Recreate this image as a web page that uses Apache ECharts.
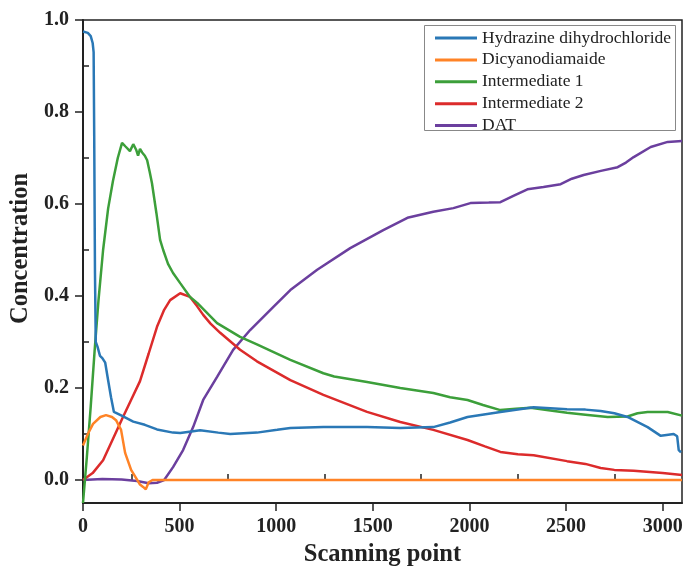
<!DOCTYPE html>
<html>
<head>
<meta charset="utf-8">
<script src="https://cdn.jsdelivr.net/npm/echarts@6/dist/echarts.min.js"></script>
<style>
  html, body { margin: 0; padding: 0; background: #fff; }
  #chart { width: 684px; height: 567px; }
</style>
</head>
<body>
<div id="chart"></div>
<script>
// values
const seriesNames = ['Hydrazine dihydrochloride', 'Dicyanodiamaide', 'Intermediate 1', 'Intermediate 2', 'DAT'];
const colors = ['#2a78b6', '#ff8326', '#3c9f3a', '#dc2b2b', '#6b3f9e'];

const hydX = [0, 10, 25, 40, 50, 55, 58, 62, 66, 75, 88, 100, 115, 130, 145, 160, 200, 260, 320, 383, 466, 503, 570, 606, 700, 762, 900, 1005, 1073, 1244, 1470, 1642, 1813, 1900, 1990, 2160, 2332, 2505, 2600, 2679, 2750, 2818, 2922, 2990, 3020, 3057, 3075, 3083, 3095];
const hydY = [0.975, 0.978, 0.972, 0.965, 0.95, 0.93, 0.75, 0.45, 0.30, 0.29, 0.27, 0.265, 0.255, 0.217, 0.18, 0.148, 0.14, 0.127, 0.12, 0.11, 0.103, 0.102, 0.106, 0.108, 0.103, 0.10, 0.103, 0.109, 0.113, 0.115, 0.115, 0.113, 0.115, 0.125, 0.137, 0.148, 0.158, 0.154, 0.153, 0.150, 0.145, 0.137, 0.115, 0.096, 0.098, 0.10, 0.095, 0.065, 0.06];

const dicX = [0, 25, 52, 90, 119, 150, 171, 197, 218, 249, 275, 295, 311, 325, 340, 360, 3100];
const dicY = [0.075, 0.1, 0.122, 0.137, 0.141, 0.137, 0.13, 0.109, 0.059, 0.022, 0.004, -0.01, -0.015, -0.02, -0.005, 0, 0];

const int1X = [0, 20, 40, 60, 80, 104, 130, 155, 180, 202, 220, 243, 260, 275, 285, 295, 306, 320, 332, 345, 357, 380, 399, 415, 440, 466, 503, 554, 591, 694, 813, 900, 1073, 1244, 1300, 1470, 1642, 1813, 1900, 1990, 2070, 2160, 2240, 2316, 2400, 2505, 2600, 2715, 2818, 2870, 2922, 3026, 3100];
const int1Y = [-0.05, 0.05, 0.16, 0.28, 0.39, 0.5, 0.59, 0.65, 0.70, 0.733, 0.725, 0.715, 0.73, 0.718, 0.705, 0.72, 0.712, 0.705, 0.695, 0.67, 0.645, 0.58, 0.522, 0.5, 0.47, 0.45, 0.428, 0.398, 0.385, 0.341, 0.311, 0.295, 0.261, 0.232, 0.225, 0.213, 0.2, 0.189, 0.18, 0.174, 0.163, 0.152, 0.155, 0.157, 0.152, 0.146, 0.142, 0.137, 0.138, 0.145, 0.148, 0.148, 0.14];

const int2X = [0, 50, 104, 150, 207, 250, 295, 340, 383, 420, 451, 503, 554, 590, 622, 660, 710, 813, 900, 1073, 1244, 1470, 1642, 1813, 1990, 2080, 2160, 2250, 2332, 2505, 2600, 2679, 2750, 2850, 3000, 3100];
const int2Y = [0, 0.015, 0.043, 0.085, 0.137, 0.175, 0.215, 0.275, 0.333, 0.37, 0.391, 0.406, 0.398, 0.378, 0.359, 0.34, 0.32, 0.283, 0.258, 0.217, 0.185, 0.148, 0.126, 0.109, 0.087, 0.073, 0.061, 0.056, 0.054, 0.041, 0.035, 0.026, 0.022, 0.02, 0.015, 0.011];

const datX = [0, 100, 200, 280, 340, 383, 420, 466, 518, 570, 622, 694, 777, 865, 984, 1073, 1212, 1383, 1554, 1679, 1813, 1917, 2005, 2100, 2160, 2230, 2300, 2383, 2472, 2530, 2591, 2680, 2767, 2810, 2850, 2938, 3026, 3100];
const datY = [0, 0.002, 0.001, -0.002, -0.007, -0.006, 0, 0.028, 0.065, 0.115, 0.174, 0.224, 0.283, 0.326, 0.376, 0.413, 0.457, 0.504, 0.543, 0.57, 0.583, 0.591, 0.602, 0.603, 0.604, 0.618, 0.632, 0.637, 0.643, 0.655, 0.663, 0.672, 0.68, 0.69, 0.702, 0.724, 0.735, 0.737];

const xMajor = [0, 500, 1000, 1500, 2000, 2500, 3000];
const xMinor = [250, 750, 1250, 1750, 2250, 2750];
const yMajor = [0, 0.2, 0.4, 0.6, 0.8, 1.0];
const yMinor = [0.1, 0.3, 0.5, 0.7, 0.9];

const allX = [hydX, dicX, int1X, int2X, datX];
const allY = [hydY, dicY, int1Y, int2Y, datY];

function zip(xs, ys) {
  return xs.map((x, i) => [x, ys[i]]);
}

const font = 'Liberation Serif, Times New Roman, serif';
const ink = '#222';

const chart = echarts.init(document.getElementById('chart'));

const series = seriesNames.map((name, i) => ({
  name: name,
  type: 'line',
  xAxisIndex: 0,
  yAxisIndex: 0,
  data: zip(allX[i], allY[i]),
  symbol: 'none',
  smooth: false,
  color: colors[i],
  lineStyle: { width: 2.5, color: colors[i] },
  z: 10 - i
}));

chart.setOption({
  animation: false,
  backgroundColor: '#fff',
  grid: {
    left: 83, right: 2, top: 20, bottom: 64,
    containLabel: false,
    outerBoundsMode: 'none',
    show: true,
    borderColor: ink,
    borderWidth: 1.5
  },
  // legend frame, drawn separately so it can hug the text like the original
  graphic: [{
    type: 'rect',
    z: 15,
    shape: { x: 424.5, y: 25.5, width: 251, height: 105 },
    style: { fill: '#fff', stroke: '#888', lineWidth: 1 }
  }],
  legend: {
    orient: 'vertical',
    left: 435,
    top: 29,
    z: 20,
    icon: 'rect',
    itemWidth: 42,
    itemHeight: 3,
    itemGap: 3.9,
    padding: 0,
    textStyle: { fontFamily: font, fontSize: 17.5, color: ink },
    data: seriesNames
  },
  xAxis: [
    {
      type: 'value',
      min: 0,
      max: 3100,
      name: 'Scanning point',
      nameLocation: 'middle',
      nameGap: 37,
      nameTextStyle: { fontFamily: font, fontSize: 24.5, fontWeight: 'bold', color: ink },
      axisLine: { show: true, onZero: false, lineStyle: { color: ink, width: 2 } },
      axisTick: { show: true, inside: false, length: 8, customValues: xMajor, lineStyle: { color: ink, width: 1.5 } },
      axisLabel: {
        customValues: xMajor, margin: 14, fontFamily: font, fontSize: 20, fontWeight: 'bold', color: ink,
        formatter: v => String(v)
      },
      splitLine: { show: false }
    },
    {
      type: 'value',
      min: 0,
      max: 3100,
      position: 'bottom',
      axisLine: { show: false },
      axisTick: { show: true, inside: true, length: 6, customValues: xMinor, lineStyle: { color: ink, width: 1.5 } },
      axisLabel: { show: false },
      splitLine: { show: false }
    }
  ],
  yAxis: [
    {
      type: 'value',
      min: -0.05,
      max: 1.0,
      name: 'Concentration',
      nameLocation: 'middle',
      nameGap: 48,
      nameTextStyle: { fontFamily: font, fontSize: 24.5, fontWeight: 'bold', color: ink, padding: [0, 0, 0, 26] },
      axisLine: { show: true, onZero: false, lineStyle: { color: ink, width: 2 } },
      axisTick: { show: true, inside: false, length: 8, customValues: yMajor, lineStyle: { color: ink, width: 1.5 } },
      axisLabel: {
        customValues: yMajor, margin: 14, fontFamily: font, fontSize: 20, fontWeight: 'bold', color: ink,
        formatter: v => v.toFixed(1)
      },
      splitLine: { show: false }
    },
    {
      type: 'value',
      min: -0.05,
      max: 1.0,
      position: 'left',
      axisLine: { show: false },
      axisTick: { show: true, inside: true, length: 6, customValues: yMinor, lineStyle: { color: ink, width: 1.5 } },
      axisLabel: { show: false },
      splitLine: { show: false }
    }
  ],
  series: series
});
</script>
</body>
</html>
